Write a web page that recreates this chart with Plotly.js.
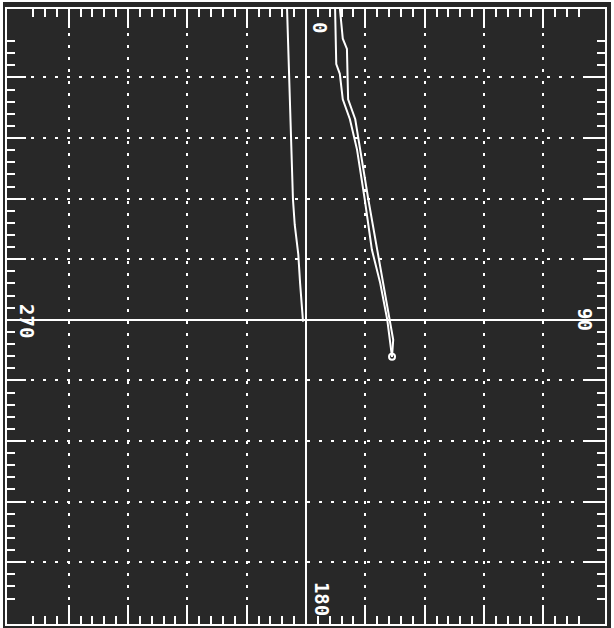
<!DOCTYPE html>
<html>
<head>
<meta charset="utf-8">
<script src="https://cdn.plot.ly/plotly-3.0.1.min.js"></script>
<style>
  html, body { margin: 0; padding: 0; background: #ffffff; }
  #chart { position: absolute; left: 3px; top: 2px; width: 608px; height: 626px; }
</style>
</head>
<body>
<div id="chart"></div>
<script>
// Trace A (single line, left of centre)
const traceAX = [-0.32, -0.29, -0.27, -0.24, -0.22, -0.19, -0.13, -0.10, -0.05];
const traceAY = [5.15, 4.30, 3.64, 2.81, 1.99, 1.57, 1.08, 0.61, -0.03];

// Trace B1 (left line of the pair)
const traceB1X = [0.49, 0.51, 0.57, 0.62, 0.74, 0.86, 0.99, 1.11, 1.25, 1.37, 1.45];
const traceB1Y = [5.15, 4.22, 4.06, 3.64, 3.31, 2.81, 1.99, 1.16, 0.61, 0.00, -0.61];

// Trace B2 (right line of the pair)
const traceB2X = [0.57, 0.62, 0.69, 0.71, 0.83, 0.91, 1.05, 1.20, 1.30, 1.42, 1.47, 1.45];
const traceB2Y = [5.15, 4.64, 4.47, 3.64, 3.31, 2.81, 1.99, 1.16, 0.61, 0.00, -0.33, -0.61];

// End point marker
const endX = [1.45];
const endY = [-0.61];

// Direction labels (top, right, bottom, left)
const dirLabels = ['0', '90', '180', '270'];

const majorVals = [-4, -3, -2, -1, 0, 1, 2, 3, 4];
const minorVals = [];
for (let i = -23; i <= 23; i++) { if (i % 5 !== 0) minorVals.push(i / 5); }

const white = '#ffffff';
const bg = '#282828';

const lineStyle = {color: white, width: 2};

const data = [
  {x: traceAX, y: traceAY, mode: 'lines', line: lineStyle, hoverinfo: 'skip'},
  {x: traceB1X, y: traceB1Y, mode: 'lines', line: lineStyle, hoverinfo: 'skip'},
  {x: traceB2X, y: traceB2Y, mode: 'lines', line: lineStyle, hoverinfo: 'skip'},
  {x: endX, y: endY, mode: 'markers', marker: {symbol: 'circle-open', size: 6, color: white, line: {width: 2, color: white}}, hoverinfo: 'skip'}
];

function axis(range) {
  return {
    range: range,
    showline: true, linecolor: white, linewidth: 2, mirror: 'ticks',
    tickmode: 'array', tickvals: majorVals,
    ticks: 'inside', ticklen: 19, tickwidth: 2, tickcolor: white,
    showticklabels: false,
    showgrid: true, gridcolor: white, gridwidth: 2, griddash: '3px,9px',
    zeroline: true, zerolinecolor: white, zerolinewidth: 2,
    minor: {tickmode: 'array', tickvals: minorVals, ticks: 'inside', ticklen: 8, tickwidth: 2, tickcolor: white, showgrid: false},
    fixedrange: true
  };
}

const labelFont = {family: 'DejaVu Sans Mono', size: 19, color: white, weight: 'bold'};
const annotations = [
  {text: dirLabels[0], x: 0.5234, y: 0.9690},
  {text: dirLabels[1], x: 0.9666, y: 0.4959},
  {text: dirLabels[2], x: 0.5268, y: 0.0408},
  {text: dirLabels[3], x: 0.0334, y: 0.4927}
].map(a => Object.assign({xref: 'paper', yref: 'paper', showarrow: false, textangle: 90, font: labelFont, xanchor: 'center', yanchor: 'middle'}, a));

const layout = {
  width: 608, height: 626,
  margin: {l: 4, r: 6, t: 7, b: 4},
  paper_bgcolor: bg, plot_bgcolor: bg,
  showlegend: false,
  xaxis: axis([-5.04, 5.04]),
  yaxis: axis([-5.02, 5.13]),
  annotations: annotations
};

Plotly.newPlot('chart', data, layout, {staticPlot: true, displayModeBar: false});
</script>
</body>
</html>
